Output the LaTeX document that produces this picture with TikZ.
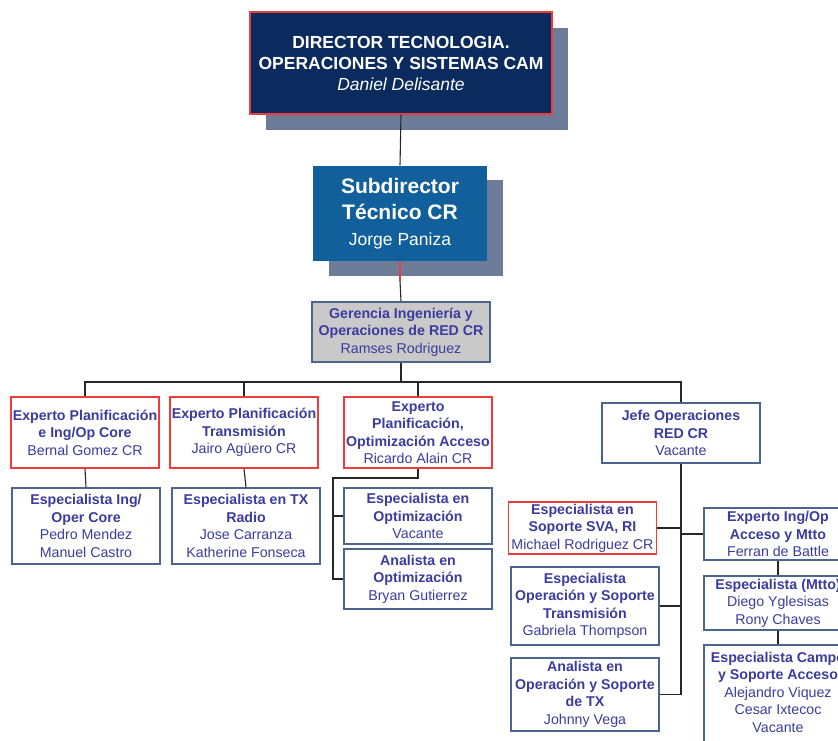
\documentclass[tikz,border=0pt]{standalone}
\usepackage{fontspec}
\setmainfont{Liberation Sans}
\definecolor{navy}{HTML}{0B2A5E}
\definecolor{steel}{HTML}{11609B}
\definecolor{shad}{HTML}{6D7C98}
\definecolor{gerfill}{HTML}{C9C9C9}
\definecolor{bord}{HTML}{4A6690}
\definecolor{redb}{HTML}{EE3B3B}
\definecolor{txt}{HTML}{3B3C9E}
\begin{document}
\begin{tikzpicture}[x=1pt,y=-1pt,
  base/.style={line width=1.6pt, inner sep=0pt, align=center, text=txt,
    font=\fontsize{14.2}{17.5}\selectfont},
  bluebox/.style={base, draw=bord, fill=white},
  redbox/.style={base, draw=redb, fill=white},
  conn/.style={line width=1.1pt, draw=black!85},
  shadowbox/.style={fill=shad, draw=none}]
\useasboundingbox (0,0) rectangle (838,740);
\clip (0,0) rectangle (838,740);
\fill[white] (0,0) rectangle (838,740);

% shadows
\fill[shadowbox] (266,28) rectangle (568,130);
\fill[shadowbox] (329,180) rectangle (503,276);

% top nodes
\node[base, draw=redb, line width=1.3pt, fill=navy, text=white, minimum width=302pt, minimum height=102pt,
  font=\fontsize{17.5}{21}\selectfont] (dir) at (401,63)
  {\textbf{DIRECTOR TECNOLOGIA.}\\ \textbf{OPERACIONES Y SISTEMAS CAM}\\ \textit{Daniel Delisante}};
\node[base, draw=none, fill=steel, text=white, minimum width=174pt, minimum height=95pt,
  font=\fontsize{21}{26}\selectfont] (sub) at (400,213.5)
  {\textbf{Subdirector}\\ \textbf{Técnico CR}\\ {\fontsize{17.5}{26}\selectfont Jorge Paniza}};
\node[base, draw=bord, fill=gerfill, minimum width=178pt, minimum height=60pt] (ger) at (401,332)
  {\textbf{Gerencia Ingeniería y}\\ \textbf{Operaciones de RED CR}\\ Ramses Rodriguez};

% level 1
\node[redbox, minimum width=148pt, minimum height=71pt] (b1) at (85,432.5)
  {\textbf{Experto Planificación}\\ \textbf{e Ing/Op Core}\\ Bernal Gomez CR};
\node[redbox, minimum width=148pt, minimum height=71pt] (b2) at (244,432.5)
  {\textbf{Experto Planificación}\\ \textbf{Transmisión}\\ Jairo Agüero CR};
\node[redbox, minimum width=148pt, minimum height=71pt] (b3) at (418,432.5)
  {\textbf{Experto}\\ \textbf{Planificación,}\\ \textbf{Optimización Acceso}\\ Ricardo Alain CR};
\node[bluebox, minimum width=158pt, minimum height=60pt] (jefe) at (681,433)
  {\textbf{Jefe Operaciones}\\ \textbf{RED CR}\\ Vacante};

% level 2 left
\node[bluebox, minimum width=148pt, minimum height=76pt] (c1) at (86,526)
  {\textbf{Especialista Ing/}\\ \textbf{Oper Core}\\ Pedro Mendez\\ Manuel Castro};
\node[bluebox, minimum width=148pt, minimum height=76pt] (c2) at (246,526)
  {\textbf{Especialista en TX}\\ \textbf{Radio}\\ Jose Carranza\\ Katherine Fonseca};
\node[bluebox, minimum width=148pt, minimum height=56pt] (opt1) at (418,516)
  {\textbf{Especialista en}\\ \textbf{Optimización}\\ Vacante};
\node[bluebox, minimum width=148pt, minimum height=60pt] (opt2) at (418,579)
  {\textbf{Analista en}\\ \textbf{Optimización}\\ Bryan Gutierrez};

% level 2 right
\node[redbox, minimum width=148pt, minimum height=52pt] (sva) at (582.5,528)
  {\textbf{Especialista en}\\ \textbf{Soporte SVA, RI}\\ Michael Rodriguez CR};
\node[bluebox, minimum width=148pt, minimum height=78pt] (opts) at (585,606)
  {\textbf{Especialista}\\ \textbf{Operación y Soporte}\\ \textbf{Transmisión}\\ Gabriela Thompson};
\node[bluebox, minimum width=148pt, minimum height=73pt] (ana) at (585,694.5)
  {\textbf{Analista en}\\ \textbf{Operación y Soporte}\\ \textbf{de TX}\\ Johnny Vega};
\node[bluebox, minimum width=148pt, minimum height=52pt] (exp) at (778,534)
  {\textbf{Experto Ing/Op}\\ \textbf{Acceso y Mtto}\\ Ferran de Battle};
\node[bluebox, minimum width=148pt, minimum height=54pt] (mtto) at (778,603)
  {\textbf{Especialista (Mtto)}\\ Diego Yglesisas\\ Rony Chaves};
\node[bluebox, minimum width=148pt, minimum height=104pt, anchor=north] (campo) at (778,644)
  {};
\node[base, anchor=north, text=txt] (campot) at (778,651)
  {\textbf{Especialista Campo}\\ \textbf{y Soporte Acceso}\\ Alejandro Viquez\\ Cesar Ixtecoc\\ Vacante};

% connectors top
\draw[conn] (dir.south) -- (sub.north);
\coordinate (redend) at (400,281);
\draw[line width=1.2pt, draw=redb] (sub.south) -- (redend);
\draw[conn] (redend) -- (ger.north);
\coordinate (bar) at (401,382);
\draw[conn] (ger.south) -- (ger.south |- bar);
\draw[conn] (b1.north) -- (b1.north |- bar) -- (jefe.north |- bar) -- (jefe.north);
\draw[conn] (b2.north) -- (b2.north |- bar);
\draw[conn] (b3.north) -- (b3.north |- bar);

% left children
\draw[conn] (b1.south) -- (c1.north);
\draw[conn] (b2.south) -- (c2.north);
\coordinate (b3k) at (333,478);
\draw[conn] (b3.south) -- (b3.south |- b3k) -- (b3k) -- (b3k |- opt2.west) -- (opt2.west);
\draw[conn] (b3k |- opt1.west) -- (opt1.west);

% right children
\draw[conn] (jefe.south) -- (jefe.south |- ana.east);
\draw[conn] (sva.east) -- (sva.east -| jefe.south);
\draw[conn] (exp.west) -- (exp.west -| jefe.south);
\draw[conn] (opts.east) -- (opts.east -| jefe.south);
\draw[conn] (ana.east) -- (ana.east -| jefe.south);
\draw[conn] (exp.south) -- (mtto.north);
\draw[conn] (mtto.south) -- (campo.north);
\end{tikzpicture}
\end{document}
